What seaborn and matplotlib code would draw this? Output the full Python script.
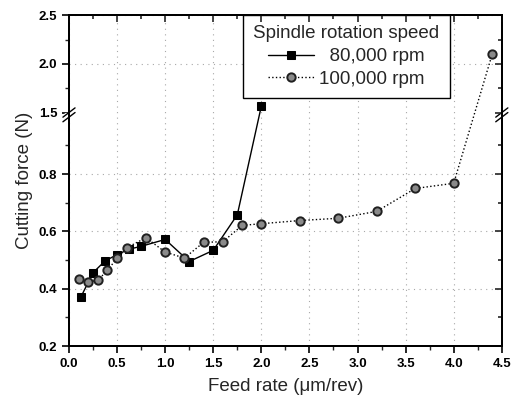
"""
Cutting force vs feed rate for two spindle speeds (broken y axis)
"""

import numpy as np
import pandas as pd
import matplotlib
matplotlib.use("Agg")
import matplotlib.pyplot as plt
import seaborn as sns

# Data
feed_80k = [0.125, 0.25, 0.375, 0.5, 0.625, 0.75, 1.0, 1.25, 1.5, 1.75, 2.0]
force_80k = [0.372, 0.456, 0.497, 0.519, 0.538, 0.548, 0.572, 0.495, 0.534, 0.658, 1.57]

feed_100k = [0.1, 0.2, 0.3, 0.4, 0.5, 0.6, 0.8, 1.0, 1.2, 1.4, 1.6, 1.8,
             2.0, 2.4, 2.8, 3.2, 3.6, 4.0, 4.4]
force_100k = [0.433, 0.423, 0.430, 0.464, 0.507, 0.543, 0.578, 0.528, 0.507,
              0.562, 0.564, 0.621, 0.627, 0.638, 0.646, 0.670, 0.750, 0.768, 2.10]

x_ticks = [0.0, 0.5, 1.0, 1.5, 2.0, 2.5, 3.0, 3.5, 4.0, 4.5]
y_ticks = [0.2, 0.4, 0.6, 0.8, 1.5, 2.0, 2.5]
y_minor = [0.3, 0.5, 0.7, 0.9, 1.75, 2.25]

# Broken axis: 0.2-1.0 below, 1.5-2.5 above (compressed)
LO_TOP, HI_BOT = 1.0, 1.5
GAP = 0.014
K = 0.341


def forward(y):
    y = np.asarray(y, dtype=float)
    return np.where(y <= LO_TOP, y,
                    np.where(y < HI_BOT, LO_TOP + (y - LO_TOP) * GAP / (HI_BOT - LO_TOP),
                             LO_TOP + GAP + (y - HI_BOT) * K))


def inverse(t):
    t = np.asarray(t, dtype=float)
    return np.where(t <= LO_TOP, t,
                    np.where(t < LO_TOP + GAP, LO_TOP + (t - LO_TOP) * (HI_BOT - LO_TOP) / GAP,
                             HI_BOT + (t - LO_TOP - GAP) / K))


def setup_y(axis):
    axis.set_yscale("function", functions=(forward, inverse))
    axis.set_ylim(0.2, 2.5)
    axis.set_yticks(y_ticks)
    axis.set_yticks(y_minor, minor=True)


def draw_break(axis, xa):
    """Draw '//' marks on a spine at the axis break"""
    t_lo, t_hi = forward(0.2), forward(2.5)
    yf = (forward((LO_TOP + HI_BOT) / 2) - t_lo) / (t_hi - t_lo)
    kw = dict(transform=axis.transAxes, color="black", lw=1.0, clip_on=False, zorder=5)
    dx, dy = 0.014, 0.014
    axis.plot([xa - 0.006, xa + 0.006], [yf, yf], color="white", lw=3,
              transform=axis.transAxes, clip_on=False, zorder=4)
    for off in (-0.007, 0.007):
        axis.plot([xa - dx, xa + dx], [yf + off - dy, yf + off + dy], **kw)


sns.set_style("ticks")
plt.rcParams["font.family"] = ["Liberation Sans", "DejaVu Sans"]

fig = plt.figure(figsize=(5.11, 4.03), dpi=100)
ax = fig.add_axes([0.135, 0.1414, 0.847, 0.821])

df80 = pd.DataFrame({"feed": feed_80k, "force": force_80k})
df100 = pd.DataFrame({"feed": feed_100k, "force": force_100k})

sns.lineplot(data=df80, x="feed", y="force", ax=ax, color="black", lw=1.0,
             marker="s", markersize=6, markerfacecolor="black",
             markeredgecolor="black", label="  80,000 rpm", zorder=3)
sns.lineplot(data=df100, x="feed", y="force", ax=ax, color="black", lw=1.0,
             linestyle=":", marker="o", markersize=6, markerfacecolor="#8a8a8a",
             markeredgecolor="#202020", markeredgewidth=1.4,
             label="100,000 rpm", zorder=3)

setup_y(ax)
ax.set_xlim(0, 4.5)
ax.set_xticks(x_ticks)
ax.set_xticks(np.arange(0.25, 4.5, 0.5), minor=True)
ax.set_xticklabels([f"{v:.1f}" for v in x_ticks], fontweight="bold")
ax.set_yticklabels([f"{v:.1f}" for v in y_ticks], fontweight="bold")

ax.grid(True, which="major", color="#a8a8a8", linestyle=(0, (1, 4)), lw=0.8)
ax.yaxis.get_gridlines()[4].set_visible(False)

ax.tick_params(which="major", direction="out", length=5, width=1.2,
               labelsize=9.5, colors="black")
ax.tick_params(which="minor", direction="out", length=3, width=1.0)
for s in ax.spines.values():
    s.set_linewidth(1.3)
    s.set_color("black")

# mirrored inward ticks on top and right
ax_r = ax.twinx()
setup_y(ax_r)
ax_r.tick_params(which="both", direction="in", labelright=False, width=1.2)
ax_r.tick_params(which="major", length=5)
ax_r.tick_params(which="minor", length=3)
ax_t = ax.twiny()
ax_t.set_xlim(0, 4.5)
ax_t.set_xticks(x_ticks)
ax_t.set_xticks(np.arange(0.25, 4.5, 0.5), minor=True)
ax_t.tick_params(which="both", direction="in", labeltop=False, width=1.2)
ax_t.tick_params(which="major", length=5)
ax_t.tick_params(which="minor", length=3)
for a in (ax_r, ax_t):
    for s in a.spines.values():
        s.set_linewidth(1.3)
        s.set_color("black")

draw_break(ax, 0.0)
draw_break(ax, 1.0)

ax.set_xlabel("Feed rate (\u03bcm/rev)", fontsize=13.5, labelpad=6)
ax.set_ylabel("Cutting force (N)", fontsize=13.5)

leg = ax.legend(title="Spindle rotation speed", loc="upper left",
                bbox_to_anchor=(0.402, 1.0), borderaxespad=0, fontsize=13.5,
                title_fontsize=13.5, frameon=True, fancybox=False, framealpha=1,
                edgecolor="black", handlelength=2.45, handletextpad=0.3,
                borderpad=0.55, labelspacing=0.3)
leg.get_frame().set_linewidth(1.0)
leg.set_zorder(10)

fig.savefig("out.png", dpi=100)
